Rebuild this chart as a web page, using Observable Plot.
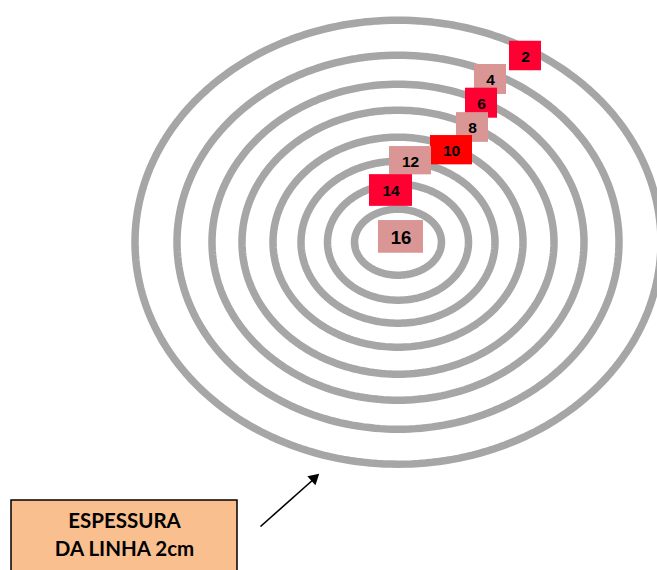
<!DOCTYPE html>
<html>
<head>
<meta charset="utf-8">
<script src="https://cdn.jsdelivr.net/npm/d3@7"></script>
<script src="https://cdn.jsdelivr.net/npm/@observablehq/plot@0.6"></script>
<style>
  html, body { margin: 0; padding: 0; background: #fff; }
  #chart svg { display: block; }
</style>
</head>
<body>
<div id="chart"></div>
<script>
// Ring centre and radii (horizontal / vertical), outer to inner
const centre = [397.5, 241.7];
const ringRx = [263, 221, 186, 156, 125, 97, 70.5, 43.5];
const ringRy = [222, 187, 158, 132, 105, 81, 58, 33];

// Ring labels
const labels  = ["2", "4", "6", "8", "10", "12", "14", "16"];
const labelX  = [525, 490, 481, 472, 451, 410, 390.5, 400.5];
const labelY  = [55.5, 79, 102.7, 127, 149.7, 160.2, 190, 236.4];
const labelW  = [32, 32, 32, 32, 42, 42, 43, 45];
const labelH  = [29.5, 30, 30, 29.7, 29.3, 28.3, 31.7, 32.7];
const labelFill = ["#ff0033", "#da9694", "#ff0033", "#da9694", "#ff0000", "#da9694", "#ff0033", "#da9694"];

// Annotation
const noteLines = ["ESPESSURA", "DA LINHA 2cm"];

const ringPts = [];
ringRx.forEach((rx, i) => {
  const ry = ringRy[i];
  for (let k = 0; k < 240; k++) {
    const t = (k / 240) * 2 * Math.PI;
    ringPts.push({ring: i, x: centre[0] + rx * Math.cos(t), y: centre[1] + ry * Math.sin(t)});
  }
});

const boxes = labels.map((l, i) => ({
  label: l,
  x: labelX[i], y: labelY[i],
  x1: labelX[i] - labelW[i] / 2, x2: labelX[i] + labelW[i] / 2,
  y1: labelY[i] - labelH[i] / 2, y2: labelY[i] + labelH[i] / 2,
  fill: labelFill[i]
}));
const smallBoxes = boxes.slice(0, 7);
const bigBoxes = boxes.slice(7);

const note = [{x1: 11, x2: 237, y1: 500, y2: 580}];
const noteText = noteLines.map((t, i) => ({text: t, x: 124, y: [521, 549][i]}));
const arrow = [{x1: 260, y1: 526, x2: 314, y2: 478}];
const arrowHead = [{x: 313.5, y: 478, angle: 48}];

const chart = Plot.plot({
  width: 657,
  height: 570,
  margin: 0,
  x: {domain: [0, 657], range: [0, 657], axis: null},
  y: {domain: [0, 570], range: [0, 570], axis: null},
  marks: [
    Plot.line(ringPts, {x: "x", y: "y", z: "ring", curve: "linear-closed", stroke: "#a6a6a6", strokeWidth: 7.5}),
    Plot.rect(boxes, {x1: "x1", x2: "x2", y1: "y1", y2: "y2", fill: d => d.fill}),
    Plot.text(smallBoxes, {x: "x", y: "y", text: "label", fill: "#000", fontWeight: 700, fontFamily: "Liberation Sans, Arial, sans-serif", fontSize: 15.5, dy: 1}),
    Plot.text(bigBoxes, {x: "x", y: "y", text: "label", fill: "#000", fontWeight: 700, fontFamily: "Liberation Sans, Arial, sans-serif", fontSize: 18.5, dy: 1}),
    Plot.rect(note, {x1: "x1", x2: "x2", y1: "y1", y2: "y2", fill: "#f9bf8f", stroke: "#000", strokeWidth: 1.5}),
    Plot.text(noteText, {x: "x", y: "y", text: "text", fill: "#000", fontWeight: 700, fontFamily: "Lato, Open Sans, sans-serif", fontSize: 20.5}),
    Plot.link(arrow, {x1: "x1", y1: "y1", x2: "x2", y2: "y2", stroke: "#000", strokeWidth: 1.6}),
    Plot.dot(arrowHead, {x: "x", y: "y", symbol: "triangle", r: 4.5, rotate: "angle", fill: "#000", stroke: "none"})
  ]
});
document.getElementById("chart").appendChild(chart);
</script>
</body>
</html>
